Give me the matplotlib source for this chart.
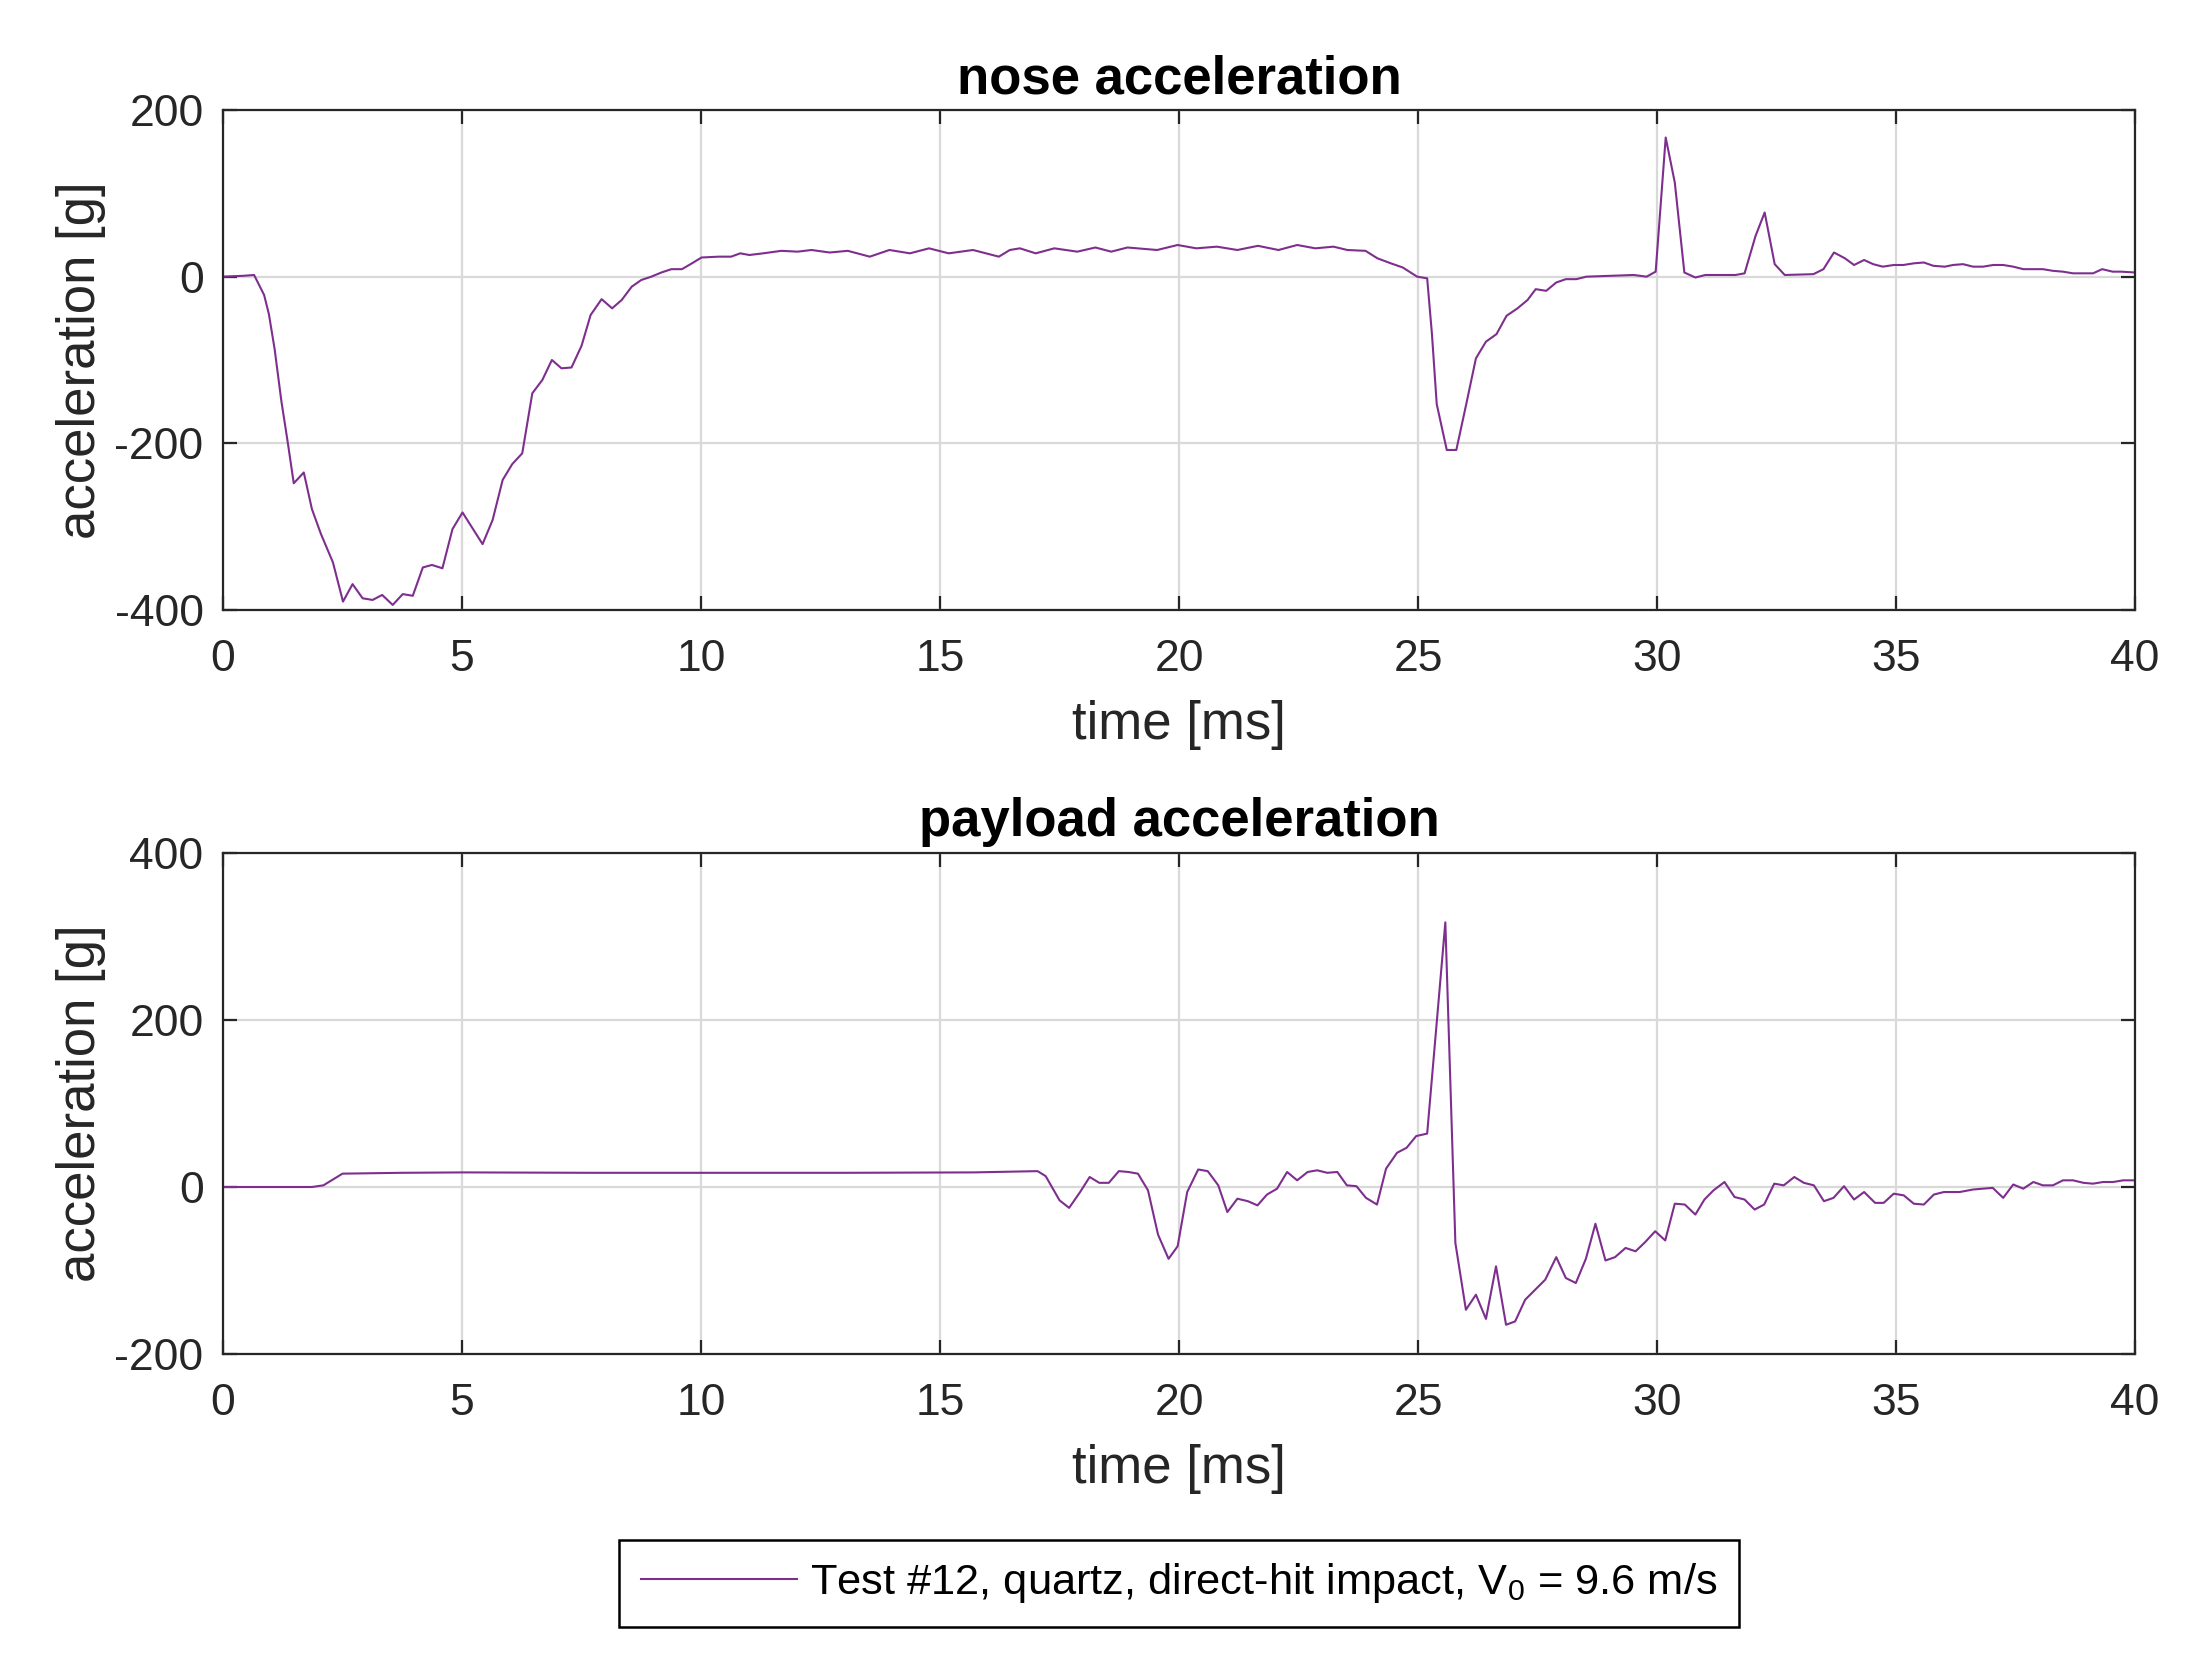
import matplotlib
matplotlib.use("Agg")
import matplotlib.pyplot as plt

plt.rcParams['font.family'] = ['Liberation Sans', 'DejaVu Sans']
plt.rcParams['mathtext.default'] = 'regular'
plt.rcParams['axes.unicode_minus'] = False

nose_t = [0.0, 0.42, 0.65, 0.86, 0.96, 1.08, 1.22, 1.36, 1.48, 1.69, 1.86, 2.05, 2.30, 2.51, 2.71,
          2.92, 3.13, 3.33, 3.55, 3.76, 3.97, 4.18, 4.37, 4.59, 4.80, 5.01, 5.22, 5.43, 5.64, 5.85,
          6.05, 6.26, 6.47, 6.68, 6.88, 7.08, 7.29, 7.50, 7.69, 7.92, 8.14, 8.34, 8.55, 8.75, 8.96,
          9.17, 9.38, 9.60, 9.81, 10.01, 10.37,
          10.63, 10.82, 11.01, 11.30, 11.68, 12.02, 12.31, 12.69, 13.07, 13.53, 13.94, 14.37, 14.77,
          15.18, 15.69, 16.23, 16.46, 16.67, 17.00, 17.39, 17.87, 18.25, 18.58, 18.92, 19.54, 19.97,
          20.36, 20.79, 21.22, 21.65, 22.08, 22.47, 22.85, 23.23, 23.52, 23.90,
          24.15, 24.43, 24.68, 24.98, 25.19, 25.29, 25.39, 25.60, 25.80, 26.00, 26.21, 26.42, 26.64,
          26.85, 27.08, 27.29, 27.46, 27.68, 27.89, 28.09, 28.31, 28.52, 29.02, 29.51, 29.78, 29.97,
          30.18, 30.37, 30.57, 30.80, 31.01, 31.22, 31.64, 31.83, 32.06, 32.25, 32.46, 32.67,
          33.27, 33.48, 33.70, 33.93, 34.12, 34.33, 34.52, 34.72, 34.95, 35.15, 35.37, 35.58, 35.78,
          36.02, 36.19, 36.40, 36.61, 36.82, 37.03, 37.24, 37.45, 37.66, 37.86, 38.07, 38.28, 38.49,
          38.70, 39.12, 39.31, 39.53, 39.71, 40.0]
nose_g = [0, 1, 2, -22, -45, -87, -149, -201, -248, -235, -279, -309, -343, -390, -369,
          -386, -388, -382, -394, -381, -383, -349, -346, -350, -303, -283, -302, -321, -292, -244,
          -225, -212, -140, -124, -100, -110, -109, -83, -46, -27, -38, -28, -12, -4, 0,
          5, 9, 9, 16, 23, 24,
          24, 28, 26, 28, 31, 30, 32, 29, 31, 24, 32, 28, 34,
          28, 32, 24, 32, 34, 28, 34, 30, 35, 30, 35, 32, 38,
          34, 36, 32, 37, 32, 38, 34, 36, 32, 31,
          22, 16, 11, 0, -2, -69, -153, -208, -208, -155, -98, -78, -69,
          -47, -38, -28, -15, -17, -7, -3, -3, 0, 1, 2, 0, 6,
          167, 113, 5, -1, 2, 2, 2, 4, 49, 77, 15, 2,
          3, 9, 29, 22, 14, 20, 15, 12, 14, 14, 16, 17, 13,
          12, 14, 15, 12, 12, 14, 14, 12, 9, 9, 9, 7, 6,
          4, 4, 9, 6, 6, 5]

payload_t = [0.0, 1.86, 2.10, 2.50, 3.72, 5.05, 7.70, 10.40, 13.00, 15.70, 17.04, 17.21, 17.50,
             17.70, 17.93, 18.13, 18.33, 18.53, 18.74, 18.94, 19.14,
             19.35, 19.56, 19.78, 19.97, 20.17, 20.40, 20.60, 20.82, 21.01, 21.22, 21.44, 21.64,
             21.84, 22.05, 22.26, 22.47, 22.69, 22.89, 23.10, 23.31, 23.51, 23.71, 23.91, 24.14,
             24.33, 24.56, 24.76, 24.96, 25.19, 25.57, 25.78, 26.00, 26.21, 26.42, 26.63, 26.84,
             27.03, 27.24, 27.45, 27.66, 27.89, 28.09, 28.30, 28.51, 28.71, 28.92, 29.12, 29.34,
             29.55, 29.75, 29.96, 30.17, 30.37, 30.58, 30.80,
             30.99, 31.18, 31.41, 31.62, 31.83, 32.04, 32.24, 32.45, 32.65, 32.87, 33.07, 33.28,
             33.49, 33.69, 33.91, 34.12, 34.33, 34.56, 34.74, 34.95, 35.16, 35.37, 35.58, 35.79,
             36.00, 36.33, 36.61, 37.02, 37.24, 37.45, 37.66, 37.87, 38.07, 38.28, 38.49, 38.70,
             38.92, 39.12, 39.33, 39.54, 39.75, 40.0]
payload_g = [0, 0, 2, 16, 17, 17.5, 17, 17, 17, 17.5, 19, 13, -16,
             -25, -6, 12, 5, 5, 19, 18, 16,
             -4, -57, -86, -71, -6, 21, 19, 2, -30, -14, -17, -22,
             -9, -2, 18, 8, 18, 20, 17, 18, 2, 1, -13, -21,
             22, 41, 47, 61, 64, 317, -67, -147, -129, -158, -95, -165,
             -161, -135, -123, -111, -84, -109, -115, -86, -44, -88, -84, -73,
             -77, -66, -53, -64, -20, -21, -33,
             -15, -4, 6, -12, -15, -27, -21, 4, 2, 12, 5, 2,
             -17, -13, 1, -15, -6, -19, -19, -8, -10, -20, -21, -9,
             -6, -6, -3, -1, -13, 3, -2, 6, 2, 2, 8, 8,
             5, 4, 6, 6, 8, 8]

x_ticks = [0, 5, 10, 15, 20, 25, 30, 35, 40]
nose_yticks = [-400, -200, 0, 200]
payload_yticks = [-200, 0, 200, 400]

line_color = '#7E2F8E'
text_color = '#262626'

fig = plt.figure(figsize=(11.04, 8.36), dpi=200)
ax1 = fig.add_axes([0.101, 0.6352, 0.866, 0.299])
ax2 = fig.add_axes([0.101, 0.1902, 0.866, 0.2996])

def style(ax, yticks, title):
    ax.set_xlim(0, 40)
    ax.set_ylim(yticks[0], yticks[-1])
    ax.set_xticks(x_ticks)
    ax.set_yticks(yticks)
    ax.grid(True, color='#d9d9d9', linewidth=0.8)
    ax.set_axisbelow(True)
    ax.tick_params(direction='in', length=5, width=0.8, top=True, right=True,
                   labelsize=16, colors=text_color)
    ax.tick_params(axis='x', pad=10.5)
    ax.tick_params(axis='y', pad=7)
    for s in ax.spines.values():
        s.set_color(text_color)
        s.set_linewidth(0.8)
    ax.set_xlabel('time [ms]', fontsize=19, color=text_color, labelpad=7)
    ax.set_ylabel('acceleration [g]', fontsize=19, color=text_color, labelpad=3)
    ax.set_title(title, fontsize=19, fontweight='bold', color='black', pad=6)

ln, = ax1.plot(nose_t, nose_g, color=line_color, linewidth=0.75)
ax2.plot(payload_t, payload_g, color=line_color, linewidth=0.75)
style(ax1, nose_yticks, 'nose acceleration')
style(ax2, payload_yticks, 'payload acceleration')

leg = fig.legend([ln], ['Test #12, quartz, direct-hit impact, V$_0$ = 9.6 m/s'],
                 loc='center', bbox_to_anchor=(0.534, 0.053), fontsize=15.6,
                 frameon=True, fancybox=False, handlelength=3.6, handletextpad=0.3,
                 borderpad=0.5, borderaxespad=0, labelcolor='black')
leg.get_frame().set_edgecolor('black')
leg.get_frame().set_linewidth(0.9)
leg.get_frame().set_alpha(1)

fig.savefig('out.png', dpi=200, facecolor='white')
